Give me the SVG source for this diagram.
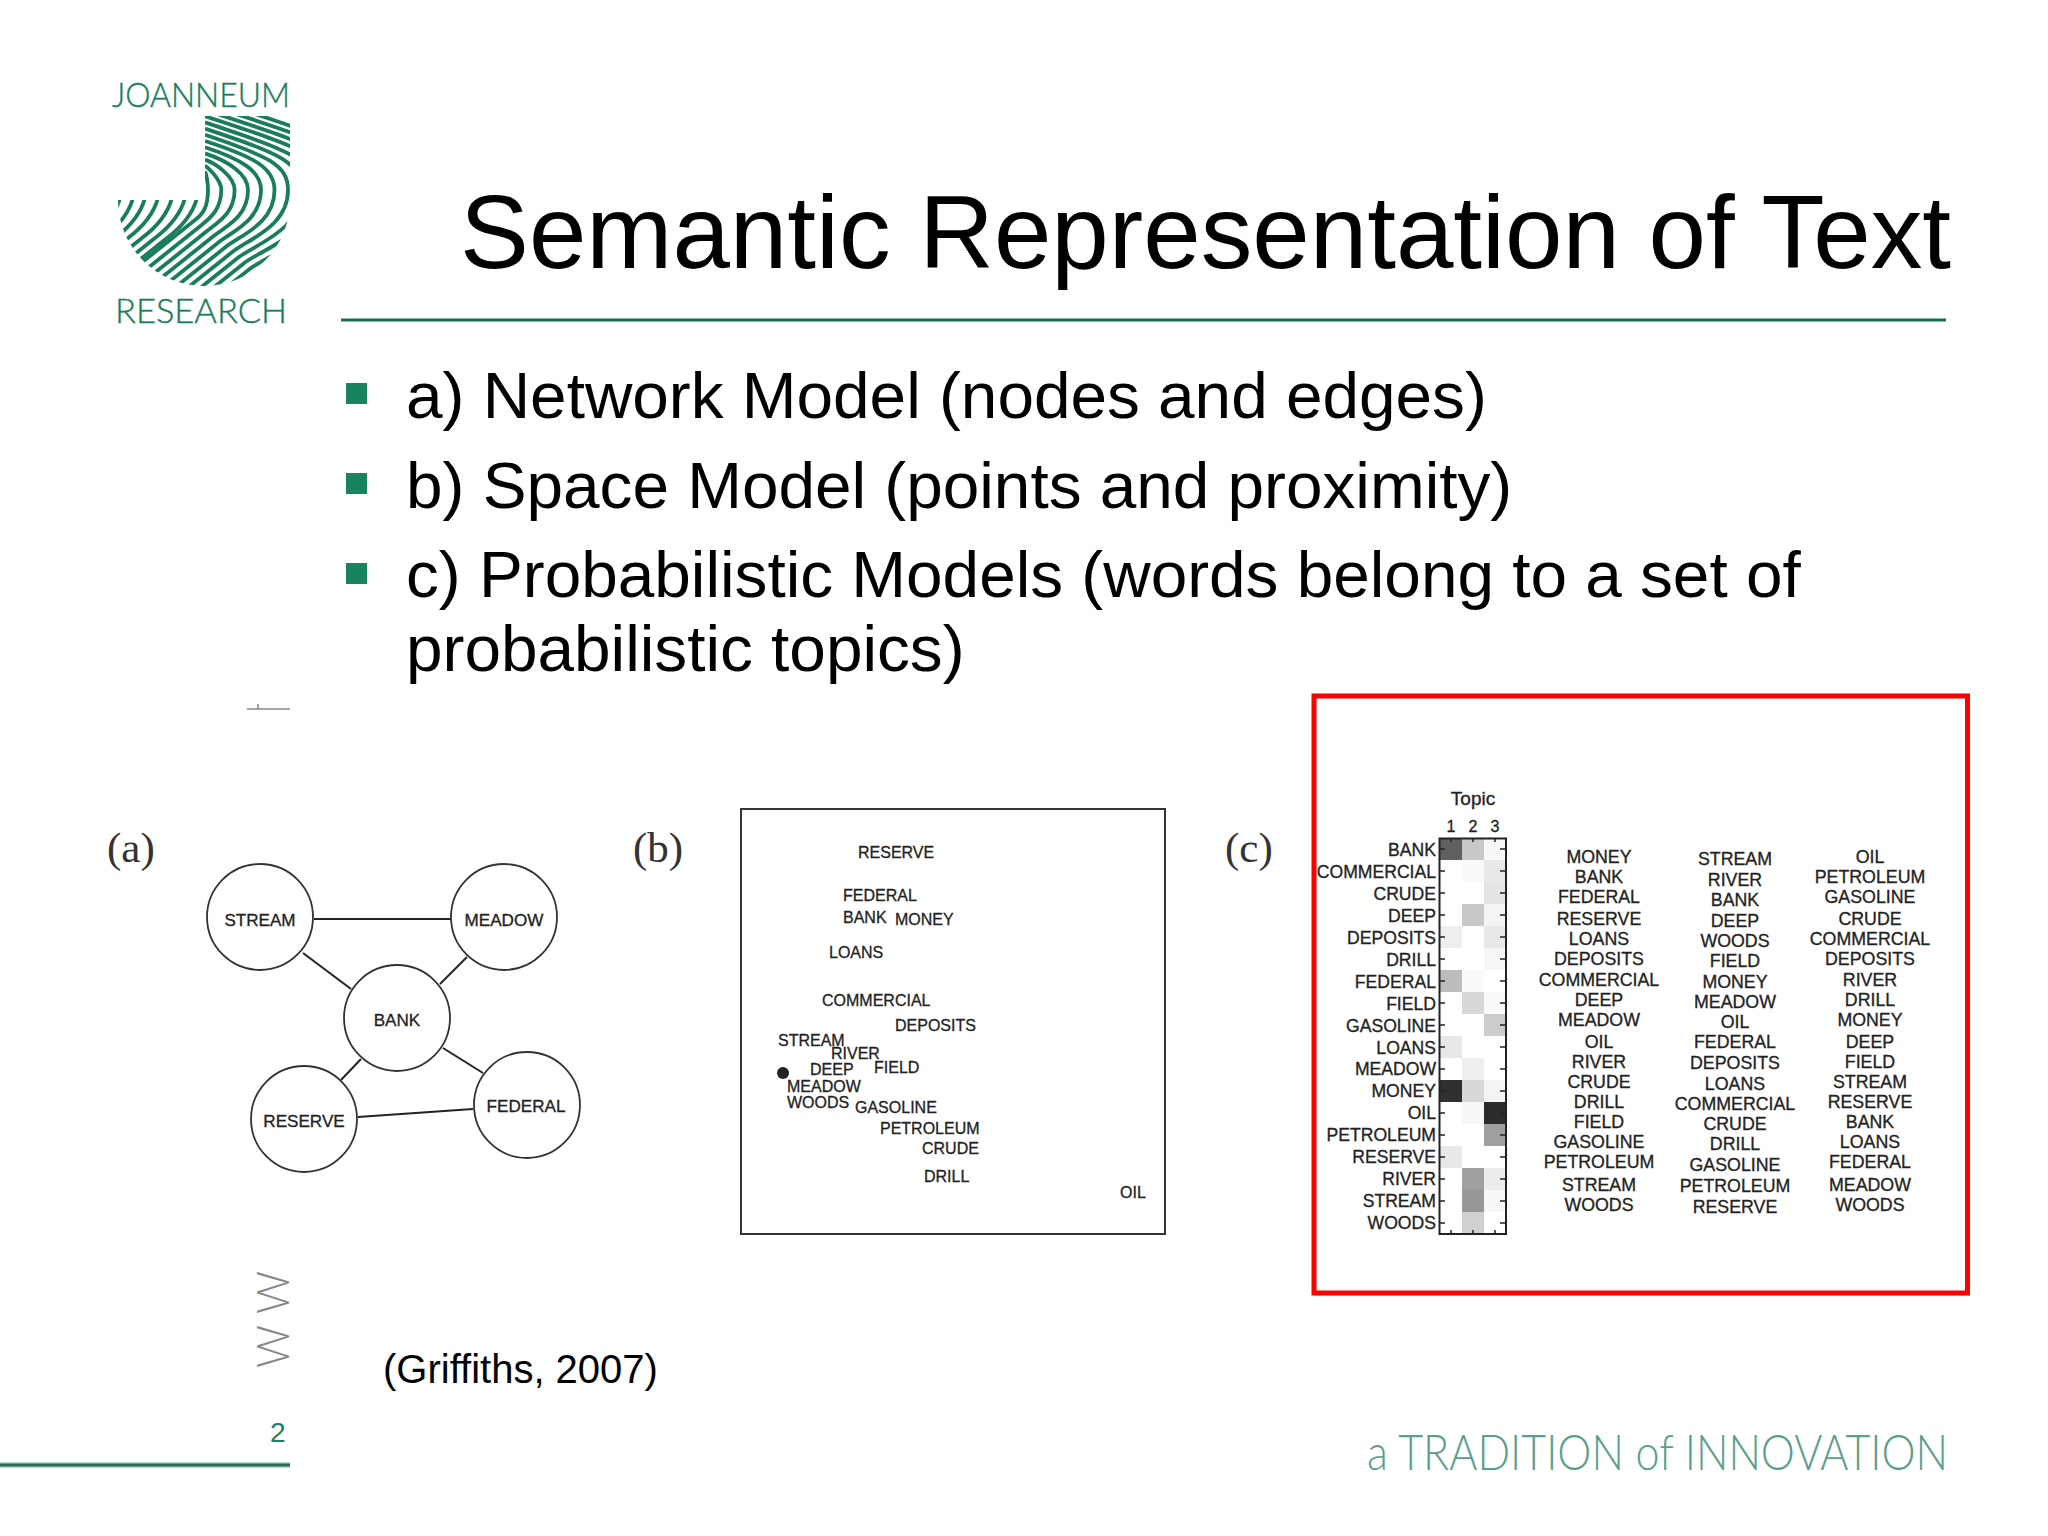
<svg xmlns="http://www.w3.org/2000/svg" width="2048" height="1536" viewBox="0 0 2048 1536">
<defs>
<style>
.s{font-family:"Liberation Sans",Arial,sans-serif}
.h{font-size:103.300px;fill:#000}
.b{font-size:65.700px;fill:#000}
.w{font-family:"Liberation Sans",Arial,sans-serif;fill:#222;stroke:#222;stroke-width:.3}
.n{font-size:17.1px;text-anchor:middle}
.sp{font-size:16px}
.lb{font-size:17.6px;text-anchor:end}
.c{font-size:17.8px;text-anchor:middle}
.p{font-family:"Liberation Serif","Times New Roman",serif;font-size:43px;fill:#333}
.lg{font-family:"Lato","Liberation Sans",sans-serif;font-weight:300}
.node{fill:#fff;stroke:#333;stroke-width:1.8}
.e{stroke:#222;stroke-width:2;fill:none}
.st{fill:none;stroke:#1a7d5a;stroke-width:3.8}
.bu{fill:#17835f}
</style>
<clipPath id="jclip"><path d="M205,116H290V200A86,86 0 0 1 118,200H205Z"/></clipPath>
</defs>
<rect width="2048" height="1536" fill="#fff"/>

<g id="logo">
<text class="lg" x="112" y="107" font-size="33" fill="#1a7d5a" stroke="#1a7d5a" stroke-width=".4" textLength="178" lengthAdjust="spacingAndGlyphs">JOANNEUM</text>
<text class="lg" x="115" y="323" font-size="33" fill="#1a7d5a" stroke="#1a7d5a" stroke-width=".4" textLength="172" lengthAdjust="spacingAndGlyphs">RESEARCH</text>
<g clip-path="url(#jclip)" class="st">
<path d="M205,172C206,172.5 208,182 208,190C208,207 203,214 195,220L45,340"/>
<path d="M205,165.8C206,166 221.3,179 221.3,190C221,210 210,218 201,225.5L51,345.5"/>
<path d="M205,159.6C214.6,163 234.6,176 234.6,190C234.6,213 218,222 207,231L57,351"/>
<path d="M205,153.4C228,161 248,174 248,190C248,217 225.5,226.5 213,236.5L63,356.5"/>
<path d="M205,147.2C241,159 261,171 261,190C261,220 233,231 219,242L69,362"/>
<path d="M205,141C254.5,157 274.5,168 274.5,190C274.5,224 240.6,235 225,247.5L75,367.5"/>
<path d="M205,134.8C268,156 288,165 288,190C288,227 248,239 231,253L81,373"/>
<path d="M205,128.6C281,154 301,162 301,190C301,231 256,243.5 237,258.5L87,378.5"/>
<path d="M205,122.4C294,152 314,160 314,190C314,235 263,248 243,264L93,384"/>
<path d="M205,116.2C308,150 328,157 328,190C328,238 271,252 249,269.5L99,389.5"/>
<path d="M205,110C321,148 341,154 341,190C341,242 278,256 255,275L105,395"/>
<path d="M205,103.8C334,146 354,151 354,190C354,245 286,260.5 261,280.5L111,400.5"/>
<path d="M205,97.6C347,144 367,148 367,190"/>
<path d="M197,198Q191,220 167,238L17,358"/>
<path d="M185,198Q179,220 155,238L5,358"/>
<path d="M172,198Q166,220 142,238L-8,358"/>
<path d="M158,198Q152,220 128,238L-22,358"/>
<path d="M145,198Q139,220 115,238L-35,358"/>
<path d="M133,198Q127,220 103,238L-47,358"/>
<path d="M120,198Q114,220 90,238L-60,358"/>
</g>
</g>

<g id="title"><text class="s h" x="460" y="268">Semantic Representation of Text</text>
<rect x="341" y="318.500" width="1605" height="3" fill="#1a6b50"/></g>

<g id="bullets">
<rect class="bu" x="346" y="383" width="21" height="21"/>
<rect class="bu" x="346" y="473" width="21" height="21"/>
<rect class="bu" x="346" y="563" width="21" height="21"/>
<text class="s b" x="406" y="418">a) Network Model (nodes and edges)</text>
<text class="s b" x="406" y="508">b) Space Model (points and proximity)</text>
<text class="s b" x="406" y="597">c) Probabilistic Models (words belong to a set of</text>
<text class="s b" x="406" y="671">probabilistic topics)</text>
</g>

<path id="mark" d="M247,709H290M258,704V709" stroke="#888" stroke-width="1.500" fill="none"/>

<text class="p" x="107" y="862">(a)</text>
<text class="p" x="633" y="862">(b)</text>
<text class="p" x="1225" y="862">(c)</text>

<g id="connectors">
<line class="e" x1="314" y1="919" x2="451" y2="919"/>
<line class="e" x1="303" y1="953" x2="351" y2="989"/>
<line class="e" x1="467" y1="957" x2="440" y2="984"/>
<line class="e" x1="361" y1="1059" x2="341" y2="1080"/>
<line class="e" x1="443" y1="1048" x2="483" y2="1073"/>
<line class="e" x1="358" y1="1117" x2="473" y2="1109"/>
</g>
<g id="node-stream"><circle class="node" cx="260" cy="917" r="53"/><text class="w n" x="260" y="926">STREAM</text></g>
<g id="node-meadow"><circle class="node" cx="504" cy="917" r="53"/><text class="w n" x="504" y="926">MEADOW</text></g>
<g id="node-bank"><circle class="node" cx="397" cy="1018" r="53"/><text class="w n" x="397" y="1026">BANK</text></g>
<g id="node-reserve"><circle class="node" cx="304" cy="1119" r="53"/><text class="w n" x="304" y="1127">RESERVE</text></g>
<g id="node-federal"><circle class="node" cx="527" cy="1105" r="53"/><text class="w n" x="526" y="1112">FEDERAL</text></g>

<g id="space-model">
<rect x="741" y="809" width="424" height="425" fill="#fff" stroke="#333" stroke-width="2"/>
<circle cx="783" cy="1073" r="6" fill="#222"/>
<g class="w sp">
<text x="858" y="858">RESERVE</text><text x="843" y="901">FEDERAL</text><text x="843" y="923">BANK</text><text x="895" y="925">MONEY</text>
<text x="829" y="958">LOANS</text><text x="822" y="1006">COMMERCIAL</text><text x="895" y="1031">DEPOSITS</text><text x="778" y="1046">STREAM</text>
<text x="831" y="1059">RIVER</text><text x="810" y="1075">DEEP</text><text x="874" y="1073">FIELD</text><text x="787" y="1092">MEADOW</text>
<text x="787" y="1108">WOODS</text><text x="855" y="1113">GASOLINE</text><text x="880" y="1134">PETROLEUM</text><text x="922" y="1154">CRUDE</text>
<text x="924" y="1182">DRILL</text><text x="1120" y="1198">OIL</text>
</g>
</g>

<rect id="highlight" x="1314" y="696" width="653.500" height="597" fill="none" stroke="#f00" stroke-width="5"/>

<g id="topic-matrix">
<g class="w" font-size="19" text-anchor="middle"><text x="1473" y="805">Topic</text><text x="1451" y="832" font-size="16">1</text><text x="1473" y="832" font-size="16">2</text><text x="1495" y="832" font-size="16">3</text></g>
<g shape-rendering="crispEdges">
<rect x="1440" y="838" width="22" height="22" fill="#606060"/><rect x="1462" y="838" width="22" height="22" fill="#c8c8c8"/><rect x="1484" y="838" width="22" height="22" fill="#f8f8f8"/>
<rect x="1484" y="860" width="22" height="22" fill="#e8e8e8"/><rect x="1462" y="860" width="22" height="22" fill="#fafafa"/>
<rect x="1484" y="882" width="22" height="22" fill="#e4e4e4"/>
<rect x="1462" y="904" width="22" height="22" fill="#c8c8c8"/><rect x="1484" y="904" width="22" height="22" fill="#f4f4f4"/>
<rect x="1440" y="926" width="22" height="22" fill="#eee"/><rect x="1484" y="926" width="22" height="22" fill="#e8e8e8"/>
<rect x="1484" y="948" width="22" height="22" fill="#f6f6f6"/>
<rect x="1440" y="970" width="22" height="22" fill="#bcbcbc"/><rect x="1462" y="970" width="22" height="22" fill="#fafafa"/>
<rect x="1462" y="992" width="22" height="22" fill="#d8d8d8"/><rect x="1484" y="992" width="22" height="22" fill="#fafafa"/>
<rect x="1484" y="1014" width="22" height="22" fill="#ccc"/>
<rect x="1440" y="1036" width="22" height="22" fill="#e8e8e8"/>
<rect x="1462" y="1058" width="22" height="22" fill="#eee"/>
<rect x="1440" y="1080" width="22" height="22" fill="#303030"/><rect x="1462" y="1080" width="22" height="22" fill="#d8d8d8"/><rect x="1484" y="1080" width="22" height="22" fill="#f4f4f4"/>
<rect x="1462" y="1102" width="22" height="22" fill="#f8f8f8"/><rect x="1484" y="1102" width="22" height="22" fill="#2c2c2c"/>
<rect x="1484" y="1124" width="22" height="22" fill="#a0a0a0"/>
<rect x="1440" y="1146" width="22" height="22" fill="#e8e8e8"/>
<rect x="1462" y="1168" width="22" height="22" fill="#a0a0a0"/><rect x="1484" y="1168" width="22" height="22" fill="#ececec"/>
<rect x="1462" y="1190" width="22" height="22" fill="#989898"/><rect x="1484" y="1190" width="22" height="22" fill="#f8f8f8"/>
<rect x="1462" y="1212" width="22" height="22" fill="#d0d0d0"/>
</g>
<path d="M1439,849h6M1439,871h6M1439,893h6M1439,915h6M1439,937h6M1439,959h6M1439,981h6M1439,1003h6M1439,1025h6M1439,1047h6M1439,1069h6M1439,1091h6M1439,1113h6M1439,1135h6M1439,1157h6M1439,1179h6M1439,1201h6M1439,1223h6M1500,849h6M1500,871h6M1500,893h6M1500,915h6M1500,937h6M1500,959h6M1500,981h6M1500,1003h6M1500,1025h6M1500,1047h6M1500,1069h6M1500,1091h6M1500,1113h6M1500,1135h6M1500,1157h6M1500,1179h6M1500,1201h6M1500,1223h6M1451,838v4M1473,838v4M1495,838v4M1451,1234v-4M1473,1234v-4M1495,1234v-4" stroke="#222" stroke-width="1.500" fill="none"/>
<rect x="1439.500" y="838.500" width="66.500" height="395.500" fill="none" stroke="#222" stroke-width="2"/>
<g class="w lb">
<text x="1436" y="856">BANK</text><text x="1436" y="878">COMMERCIAL</text><text x="1436" y="900">CRUDE</text><text x="1436" y="922">DEEP</text><text x="1436" y="944">DEPOSITS</text><text x="1436" y="966">DRILL</text>
<text x="1436" y="988">FEDERAL</text><text x="1436" y="1010">FIELD</text><text x="1436" y="1032">GASOLINE</text><text x="1436" y="1054">LOANS</text><text x="1436" y="1075">MEADOW</text><text x="1436" y="1097">MONEY</text>
<text x="1436" y="1119">OIL</text><text x="1436" y="1141">PETROLEUM</text><text x="1436" y="1163">RESERVE</text><text x="1436" y="1185">RIVER</text><text x="1436" y="1207">STREAM</text><text x="1436" y="1229">WOODS</text>
</g>
<g class="w c">
<text x="1599" y="863">MONEY</text><text x="1599" y="883">BANK</text><text x="1599" y="903">FEDERAL</text><text x="1599" y="925">RESERVE</text><text x="1599" y="945">LOANS</text><text x="1599" y="965">DEPOSITS</text><text x="1599" y="986">COMMERCIAL</text><text x="1599" y="1006">DEEP</text><text x="1599" y="1026">MEADOW</text><text x="1599" y="1048">OIL</text><text x="1599" y="1068">RIVER</text><text x="1599" y="1088">CRUDE</text><text x="1599" y="1108">DRILL</text><text x="1599" y="1128">FIELD</text><text x="1599" y="1148">GASOLINE</text><text x="1599" y="1168">PETROLEUM</text><text x="1599" y="1191">STREAM</text><text x="1599" y="1211">WOODS</text>
</g>
<g class="w c">
<text x="1735" y="865">STREAM</text><text x="1735" y="886">RIVER</text><text x="1735" y="906">BANK</text><text x="1735" y="927">DEEP</text><text x="1735" y="947">WOODS</text><text x="1735" y="967">FIELD</text><text x="1735" y="988">MONEY</text><text x="1735" y="1008">MEADOW</text><text x="1735" y="1028">OIL</text><text x="1735" y="1048">FEDERAL</text><text x="1735" y="1069">DEPOSITS</text><text x="1735" y="1090">LOANS</text><text x="1735" y="1110">COMMERCIAL</text><text x="1735" y="1130">CRUDE</text><text x="1735" y="1150">DRILL</text><text x="1735" y="1171">GASOLINE</text><text x="1735" y="1192">PETROLEUM</text><text x="1735" y="1213">RESERVE</text>
</g>
<g class="w c">
<text x="1870" y="863">OIL</text><text x="1870" y="883">PETROLEUM</text><text x="1870" y="903">GASOLINE</text><text x="1870" y="925">CRUDE</text><text x="1870" y="945">COMMERCIAL</text><text x="1870" y="965">DEPOSITS</text><text x="1870" y="986">RIVER</text><text x="1870" y="1006">DRILL</text><text x="1870" y="1026">MONEY</text><text x="1870" y="1048">DEEP</text><text x="1870" y="1068">FIELD</text><text x="1870" y="1088">STREAM</text><text x="1870" y="1108">RESERVE</text><text x="1870" y="1128">BANK</text><text x="1870" y="1148">LOANS</text><text x="1870" y="1168">FEDERAL</text><text x="1870" y="1191">MEADOW</text><text x="1870" y="1211">WOODS</text>
</g>
</g>

<text id="citation" class="s" x="383" y="1383" font-size="40" fill="#000">(Griffiths, 2007)</text>
<g id="side" class="lg" font-size="46" fill="#888">
<text transform="translate(289,1368) rotate(-90)" textLength="43" lengthAdjust="spacingAndGlyphs">W</text>
<text transform="translate(289,1314) rotate(-90)" textLength="43" lengthAdjust="spacingAndGlyphs">W</text>
</g>
<g id="footer-left">
<rect x="0" y="1462" width="290" height="6" fill="#a8dcc8"/><rect x="0" y="1463.500" width="290" height="3" fill="#2a6b50"/>
<text class="s" x="270" y="1442" font-size="28" fill="#17835f">2</text>
</g>
<text id="tagline" class="lg" x="1367" y="1470" font-size="50" fill="#5a9f8c" textLength="581" lengthAdjust="spacingAndGlyphs">a TRADITION of INNOVATION</text>
</svg>
